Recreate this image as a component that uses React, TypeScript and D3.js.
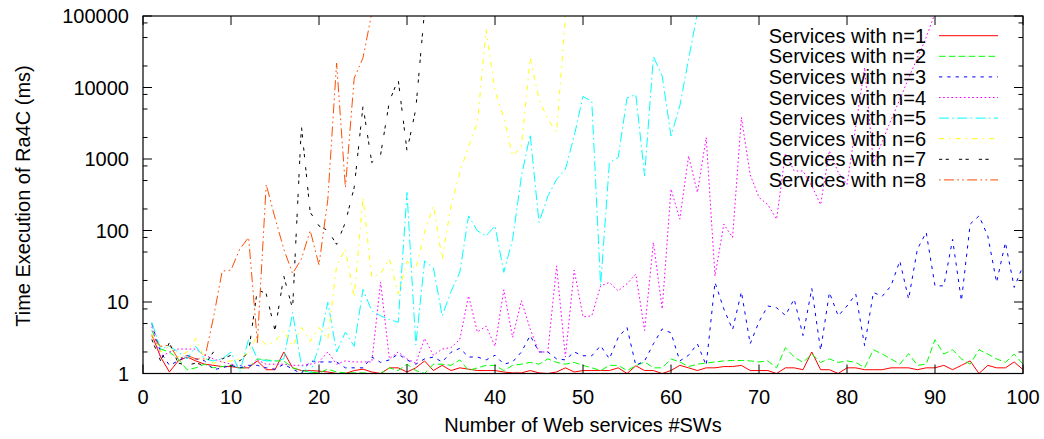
import React from "react";
import * as d3 from "d3";

// ---------- data (x = 1..N, y = time in ms) ----------
const xTickValues = [0, 10, 20, 30, 40, 50, 60, 70, 80, 90, 100];
const yTickValues = [1, 10, 100, 1000, 10000, 100000];
const yTickLabels = ["1", "10", "100", "1000", "10000", "100000"];
const yMinorMultipliers = [2, 5, 8];

const seriesNames = [
  "Services with n=1",
  "Services with n=2",
  "Services with n=3",
  "Services with n=4",
  "Services with n=5",
  "Services with n=6",
  "Services with n=7",
  "Services with n=8",
];

const n1 = [3.5, 1.7, 1.05, 1.5, 1.7, 1.5, 1.35, 1.3, 1.25, 1.25, 1.2, 1.2, 1.5, 1.13, 1.13, 2.0, 1.2, 1.1, 1.1, 1.08,
  1.05, 1.0, 1.0, 1.1, 1.15, 1.05, 1.0, 1.2, 1.2, 1.05, 1.2, 1.5, 1.1, 1.3, 1.1, 1.2, 1.15, 1.1, 1.1, 1.1,
  1.05, 1.02, 1.02, 1.1, 1.02, 1.0, 1.05, 1.2, 1.05, 1.1, 1.1, 1.1, 1.1, 1.2, 1.0, 1.28, 1.1, 1.1, 1.0, 1.1,
  1.3, 1.2, 1.1, 1.2, 1.2, 1.25, 1.25, 1.3, 1.1, 1.1, 1.1, 1.0, 1.2, 1.2, 1.13, 2.0, 1.13, 1.13, 1.0, 1.2,
  1.2, 1.13, 1.13, 1.13, 1.2, 1.2, 1.2, 1.13, 1.2, 1.2, 1.3, 1.13, 1.3, 1.5, 1.0, 1.3, 1.2, 1.2, 1.45, 1.13];

const n2 = [4.0, 2.2, 2.0, 1.6, 1.13, 1.2, 1.35, 1.2, 1.25, 1.3, 1.2, 1.2, 1.6, 1.55, 1.5, 1.5, 1.2, 1.1, 1.05, 1.02,
  1.15, 1.05, 1.02, 1.02, 1.02, 1.0, 1.0, 1.2, 1.1, 1.35, 1.1, 1.0, 1.35, 1.35, 1.3, 1.55, 1.1, 1.2, 1.3, 1.3,
  1.1, 1.3, 1.35, 1.43, 1.35, 1.6, 1.43, 1.35, 1.43, 1.3, 1.2, 1.1, 1.3, 1.3, 1.1, 1.28, 1.45, 1.2, 1.2, 1.6,
  1.45, 1.25, 1.35, 1.4, 1.45, 1.5, 1.52, 1.52, 1.5, 1.45, 1.5, 1.2, 2.3, 1.7, 1.43, 1.87, 1.43, 1.6, 1.43, 1.5,
  1.43, 1.2, 2.15, 1.87, 1.6, 1.35, 1.9, 1.3, 1.35, 2.97, 1.87, 2.15, 1.6, 1.35, 2.15, 1.87, 1.6, 1.43, 1.87, 1.35];

const n3 = [5.0, 2.0, 1.3, 1.5, 1.8, 1.6, 1.5, 1.13, 1.2, 1.3, 1.2, 1.3, 1.3, 1.2, 1.15, 1.35, 1.15, 1.0, 1.5, 1.45,
  1.45, 1.45, 1.2, 1.2, 1.2, 1.7, 1.43, 1.55, 1.87, 1.55, 1.35, 1.6, 1.7, 1.45, 1.98, 2.25, 1.7, 1.7, 1.55, 1.8,
  1.35, 1.45, 2.0, 3.4, 2.0, 2.0, 1.6, 1.55, 2.0, 1.77, 1.77, 2.45, 1.6, 3.2, 4.4, 1.3, 1.5, 2.6, 4.2, 3.7,
  1.5, 1.8, 2.6, 1.3, 18.8, 8.0, 4.1, 13.9, 2.6, 5.3, 8.8, 8.3, 6.5, 11, 3.4, 15.5, 2.1, 13.6, 6.4, 8.8,
  12.9, 2.45, 13.6, 12, 16.8, 37.5, 11, 55, 94, 16.8, 16.8, 75, 10.4, 123, 160, 84, 18.8, 68, 16, 32];

const n4 = [4.5, 1.7, 2.0, 2.2, 2.2, 2.2, 1.8, 1.6, 1.45, 1.35, 1.3, 1.2, 1.55, 1.35, 1.35, 1.35, 1.3, 1.3, 1.35, 1.45,
  2.0, 1.35, 1.5, 1.45, 1.45, 1.45, 19, 1.6, 2.0, 1.6, 1.4, 3.1, 1.8, 2.2, 2.3, 3.0, 12.2, 3.8, 4.6, 2.4,
  14.8, 3.2, 10.4, 4.2, 2.0, 2.0, 32, 1.7, 28, 6.2, 6.4, 16.8, 18.8, 14.3, 18, 24.5, 4.0, 68, 8, 380,
  144, 1100, 340, 2000, 23, 123, 80, 3800, 600, 290, 230, 144, 1200, 680, 680, 420, 230, 1300, 650, 440,
  2900, 19000, 890, 1750, 3500, 6800, 13500, 26000, 50000, 110000];

const n5 = [5.2, 2.2, 2.4, 2.0, 1.6, 2.4, 1.6, 1.5, 1.6, 2.0, 1.05, 3.0, 1.6, 1.5, 1.5, 1.6, 7.1, 1.3, 1.0, 2.4,
  9.9, 2.0, 3.8, 2.4, 15, 7.5, 6.4, 5.7, 5.2, 340, 2.5, 37.5, 30, 6.4, 14, 26, 160, 99, 84, 116,
  26, 75, 570, 2200, 130, 300, 520, 720, 2100, 7500, 6400, 17, 890, 1050, 7100, 8000, 580, 27000, 14500, 2100,
  5500, 25000, 110000];

const n6 = [3.5, 2.0, 2.4, 1.7, 2.0, 3.1, 1.6, 1.4, 1.45, 1.5, 1.6, 2.0, 3.4, 2.5, 2.8, 4.0, 2.4, 4.4, 2.8, 4.4,
  3.0, 32, 55, 11.6, 290, 22, 25, 40, 13, 37, 29, 94, 220, 40, 220, 650, 1500, 3200, 64000, 9000,
  3800, 1100, 1500, 26000, 6800, 3600, 2400, 95000, 600000];

const n7 = [3.0, 1.5, 2.7, 1.4, 1.3, 1.4, 1.3, 2.0, 1.6, 1.8, 1.5, 2.0, 15, 13, 4, 23, 8, 2900, 180, 116,
  100, 64, 130, 400, 5500, 890, 1150, 6400, 13000, 1300, 5000, 120000];

const n8 = [3.3, 2.4, 2.5, 1.6, 1.8, 1.6, 1.6, 6, 27, 28, 55, 80, 2.7, 440, 150, 55, 25, 40, 100, 33,
  270, 22000, 400, 13500, 26000, 110000];

const seriesValues = [n1, n2, n3, n4, n5, n6, n7, n8];
const seriesColors = ["#ff0000", "#00ff00", "#0000ff", "#ff00ff", "#00ffff", "#ffff00", "#000000", "#ff4d00"];
const seriesDashes = [
  "none",
  "6.6 3.3",
  "3.3 5",
  "1.65 2.5",
  "10 3.3 1.65 3.3",
  "5 5 1.65 5",
  "3.3 3.3 3.3 10",
  "1.65 3.3 10 3.3 1.65 3.3",
];

// ---------- layout ----------
const W = 1044;
const H = 439;
const left = 143;
const right = 1023;
const top = 16;
const bottom = 373.5;
const FONT = "'Liberation Sans', Arial, Helvetica, sans-serif";

export default function App() {
  const x = d3.scaleLinear().domain([0, 100]).range([left, right]);
  const y = d3.scaleLog().domain([1, 100000]).range([bottom, top]);

  const line = d3
    .line<number>()
    .x((_, i) => x(i + 1))
    .y((v) => y(v));

  const minorTicks: number[] = [];
  for (let d = 0; d < 5; d++) {
    for (const m of yMinorMultipliers) minorTicks.push(m * Math.pow(10, d));
  }

  const majorLen = 9;
  const minorLen = 4.5;

  return (
    <svg
      width={W}
      height={H}
      viewBox={`0 0 ${W} ${H}`}
      style={{ position: "absolute", left: 0, top: 0, background: "#fff" }}
      fontFamily={FONT}
    >
      <defs>
        <clipPath id="plotclip">
          <rect x={left} y={top} width={right - left} height={bottom - top} />
        </clipPath>
      </defs>
      <rect x={0} y={0} width={W} height={H} fill="#fff" />

      {/* series */}
      <g clipPath="url(#plotclip)">
        {seriesValues.map((vals, si) => (
          <path
            key={si}
            d={line(vals) || ""}
            fill="none"
            stroke={seriesColors[si]}
            strokeWidth={1}
            strokeDasharray={seriesDashes[si]}
            strokeLinejoin="miter"
          />
        ))}
      </g>

      {/* ticks */}
      <g stroke="#000" strokeWidth={1}>
        {xTickValues.map((t) => (
          <g key={"xt" + t}>
            <line x1={x(t)} x2={x(t)} y1={bottom} y2={bottom - majorLen} />
            <line x1={x(t)} x2={x(t)} y1={top} y2={top + majorLen} />
          </g>
        ))}
        {yTickValues.map((t) => (
          <g key={"yt" + t}>
            <line x1={left} x2={left + majorLen} y1={y(t)} y2={y(t)} />
            <line x1={right} x2={right - majorLen} y1={y(t)} y2={y(t)} />
          </g>
        ))}
        {minorTicks.map((t) => (
          <g key={"ym" + t}>
            <line x1={left} x2={left + minorLen} y1={y(t)} y2={y(t)} />
            <line x1={right} x2={right - minorLen} y1={y(t)} y2={y(t)} />
          </g>
        ))}
      </g>

      {/* border */}
      <rect
        x={left}
        y={top}
        width={right - left}
        height={bottom - top}
        fill="none"
        stroke="#000"
        strokeWidth={1.2}
      />

      {/* tick labels */}
      <g fontSize={20} fill="#000">
        {xTickValues.map((t) => (
          <text key={"xl" + t} x={x(t)} y={404} textAnchor="middle">
            {t}
          </text>
        ))}
        {yTickValues.map((t, i) => (
          <text key={"yl" + t} x={129} y={y(t) + 7} textAnchor="end">
            {yTickLabels[i]}
          </text>
        ))}
      </g>

      {/* axis titles */}
      <text x={583} y={432} textAnchor="middle" fontSize={20} fill="#000">
        Number of Web services #SWs
      </text>
      <text
        transform={`translate(30, 196) rotate(-90)`}
        textAnchor="middle"
        fontSize={20}
        fill="#000"
      >
        Time Execution of Ra4C (ms)
      </text>

      {/* legend */}
      <g fontSize={20} fill="#000">
        {seriesNames.map((name, i) => {
          const cy = 35.7 + 20.6 * i;
          return (
            <g key={"lg" + i}>
              <text x={926} y={cy + 7} textAnchor="end">
                {name}
              </text>
              <line
                x1={939}
                x2={998}
                y1={cy}
                y2={cy}
                stroke={seriesColors[i]}
                strokeWidth={1}
                strokeDasharray={seriesDashes[i]}
              />
            </g>
          );
        })}
      </g>
    </svg>
  );
}
